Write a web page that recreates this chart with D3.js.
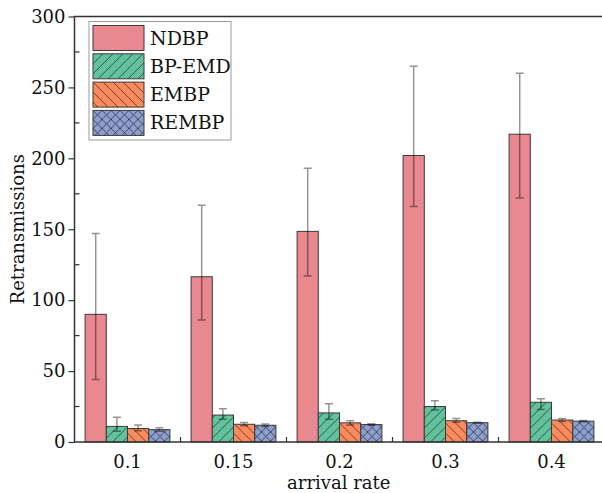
<!DOCTYPE html>
<html>
<head>
<meta charset="utf-8">
<script src="https://cdn.jsdelivr.net/npm/d3@7"></script>
<style>
  body { margin: 0; background: #fff; }
  text { font-family: "DejaVu Serif", serif; fill: #111; }
</style>
</head>
<body>
<script>
// chart data
var rates = ["0.1", "0.15", "0.2", "0.3", "0.4"];
var methods = ["NDBP", "BP-EMD", "EMBP", "REMBP"];
var ndbp = [90, 116.5, 148.5, 202, 217];
var ndbpLow = [44, 86, 117, 166, 172];
var ndbpHigh = [147, 167, 193, 265, 260];
var bpemd = [11, 19, 20.5, 25, 28];
var bpemdLow = [7.5, 16, 16, 22.5, 23];
var bpemdHigh = [17.5, 23.5, 27, 29, 30.5];
var embp = [9.5, 12.5, 13.5, 15, 15.5];
var embpLow = [8, 11.5, 12, 14, 14.5];
var embpHigh = [12, 13.8, 15, 16.5, 16.5];
var rembp = [8.7, 11.8, 12.3, 13.6, 14.7];
var rembpLow = [7.5, 11, 11.8, 13.2, 14.2];
var rembpHigh = [10, 12.7, 12.8, 14, 15.1];
var yTicks = [0, 50, 100, 150, 200, 250, 300];

var series = [
    {name: "NDBP", values: ndbp, low: ndbpLow, high: ndbpHigh, color: "#e9888f", pattern: null},
    {name: "BP-EMD", values: bpemd, low: bpemdLow, high: bpemdHigh, color: "#63c29e", pattern: "fwd"},
    {name: "EMBP", values: embp, low: embpLow, high: embpHigh, color: "#fc8a5c", pattern: "back"},
    {name: "REMBP", values: rembp, low: rembpLow, high: rembpHigh, color: "#8d9fd0", pattern: "cross"}
];

var width = 602, height = 493;
var plotLeft = 74.5, plotRight = 604.5, plotTop = 16.5, plotBottom = 442;

var svg = d3.select("body").append("svg")
    .attr("width", width)
    .attr("height", height);

// hatch patterns
var defs = svg.append("defs");
function makePattern(id, color, kind) {
    var size = kind == "cross" ? 9 : 10;
    var p = defs.append("pattern")
        .attr("id", id)
        .attr("patternUnits", "userSpaceOnUse")
        .attr("width", size)
        .attr("height", size);
    p.append("rect").attr("width", size).attr("height", size).attr("fill", color);
    var up = "M0," + size + " L" + size + ",0 M-2,2 L2,-2 M" + (size - 2) + "," + (size + 2) + " L" + (size + 2) + "," + (size - 2);
    var down = "M0,0 L" + size + "," + size + " M-2," + (size - 2) + " L2," + (size + 2) + " M" + (size - 2) + ",-2 L" + (size + 2) + ",2";
    var d = kind == "fwd" ? up : (kind == "back" ? down : up + " " + down);
    p.append("path").attr("d", d)
        .attr("stroke", "#222")
        .attr("stroke-width", 0.7)
        .attr("fill", "none");
}
series.forEach(function (s, i) {
    if (s.pattern) makePattern("pat" + i, s.color, s.pattern);
});
function fillOf(i) {
    return series[i].pattern ? "url(#pat" + i + ")" : series[i].color;
}

var x0 = d3.scaleBand().domain(rates).range([plotLeft, plotRight]).padding(0);
var x1 = d3.scaleBand().domain(methods)
    .range([x0.bandwidth() * 0.1, x0.bandwidth() * 0.9]);
var y = d3.scaleLinear().domain([0, 300]).range([plotBottom, plotTop]);

// bars
var groups = svg.append("g").selectAll("g")
    .data(rates)
    .enter().append("g")
    .attr("transform", function (d) { return "translate(" + x0(d) + ",0)"; });

series.forEach(function (s, i) {
    groups.append("rect")
        .attr("x", x1(s.name))
        .attr("width", x1.bandwidth())
        .attr("y", function (d, j) { return y(s.values[j]); })
        .attr("height", function (d, j) { return y(0) - y(s.values[j]); })
        .attr("fill", fillOf(i))
        .attr("stroke", "#3a3a3a")
        .attr("stroke-width", 1);
});

// error bars
series.forEach(function (s, i) {
    var cx = x1(s.name) + x1.bandwidth() / 2;
    var eb = groups.append("g")
        .attr("stroke", "rgba(0,0,0,0.42)")
        .attr("stroke-width", 1.5)
        .attr("fill", "none");
    eb.append("path")
        .attr("d", function (d, j) {
            var yl = y(s.low[j]), yh = y(s.high[j]);
            return "M" + cx + "," + yl + " L" + cx + "," + yh +
                " M" + (cx - 4) + "," + yh + " L" + (cx + 4) + "," + yh +
                " M" + (cx - 4) + "," + yl + " L" + (cx + 4) + "," + yl;
        });
});

// frame
svg.append("rect")
    .attr("x", plotLeft).attr("y", plotTop)
    .attr("width", plotRight - plotLeft).attr("height", plotBottom - plotTop)
    .attr("fill", "none")
    .attr("stroke", "#333")
    .attr("stroke-width", 1.5);

// y axis
var yAxis = d3.axisLeft(y).tickValues(yTicks).tickSize(6).tickPadding(3);
var gy = svg.append("g").attr("transform", "translate(" + plotLeft + ",0)").call(yAxis);
gy.select(".domain").remove();
gy.selectAll(".tick line").attr("stroke", "#333").attr("stroke-width", 1.2);
gy.selectAll(".tick text").style("font-size", "18px").style("font-family", "DejaVu Serif").attr("fill", "#111");
// minor ticks (inward)
var minor = d3.range(25, 300, 50);
svg.append("g").selectAll("line").data(minor).enter().append("line")
    .attr("x1", plotLeft).attr("x2", plotLeft + 5)
    .attr("y1", function (d) { return y(d); })
    .attr("y2", function (d) { return y(d); })
    .attr("stroke", "#333").attr("stroke-width", 1.2);

// x axis
var xAxis = d3.axisBottom(x0).tickSize(0).tickPadding(13);
var gx = svg.append("g").attr("transform", "translate(0," + plotBottom + ")").call(xAxis);
gx.select(".domain").remove();
gx.selectAll(".tick text").style("font-size", "18px").style("font-family", "DejaVu Serif").attr("fill", "#111");
// ticks between groups (inward)
svg.append("g").selectAll("line").data(rates.slice(1)).enter().append("line")
    .attr("x1", function (d) { return x0(d); })
    .attr("x2", function (d) { return x0(d); })
    .attr("y1", plotBottom).attr("y2", plotBottom - 5)
    .attr("stroke", "#333").attr("stroke-width", 1.2);

// axis titles
svg.append("text")
    .attr("x", (plotLeft + 604) / 2 - 0.5)
    .attr("y", 489)
    .attr("text-anchor", "middle")
    .style("font-size", "18px")
    .text("arrival rate");
svg.append("text")
    .attr("transform", "translate(24," + ((plotTop + plotBottom) / 2) + ") rotate(-90)")
    .attr("text-anchor", "middle")
    .style("font-size", "18px")
    .text("Retransmissions");

// legend
var lg = svg.append("g").attr("transform", "translate(89,21.5)");
lg.append("rect")
    .attr("width", 142).attr("height", 118.5)
    .attr("fill", "#fff")
    .attr("stroke", "#999")
    .attr("stroke-width", 1);
series.forEach(function (s, i) {
    var row = lg.append("g").attr("transform", "translate(4," + (4 + i * 28.3) + ")");
    row.append("rect")
        .attr("width", 51).attr("height", 25)
        .attr("fill", fillOf(i))
        .attr("stroke", "#3a3a3a")
        .attr("stroke-width", 1);
    row.append("text")
        .attr("x", 57).attr("y", 19)
        .style("font-size", "19px")
        .text(s.name);
});
</script>
</body>
</html>
